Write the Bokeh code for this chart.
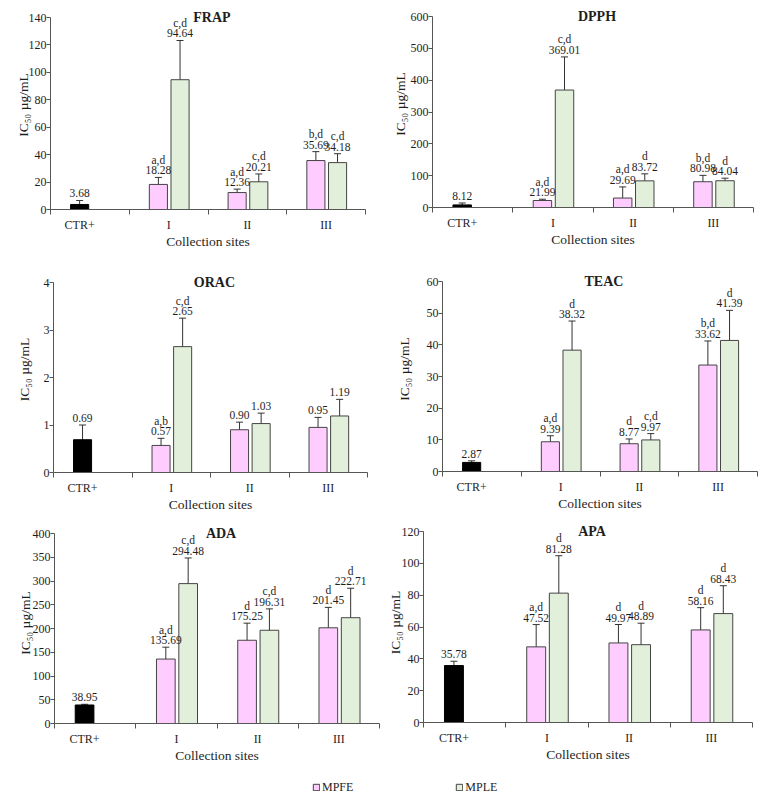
from bokeh.plotting import figure
from bokeh.models import (ColumnDataSource, Range1d, FixedTicker, SingleIntervalTicker,
                          Whisker, TeeHead, LabelSet, Label, Legend, LegendItem, Title)
from bokeh.layouts import column, row
from bokeh.core.properties import value
from bokeh.embed import file_html
from bokeh.resources import INLINE

# ---------------- data ----------------
ASSAYS = ["FRAP", "DPPH", "ORAC", "TEAC", "ADA", "APA"]
SITES = ["I", "II", "III"]
CTR_NAME = "CTR+"
SERIES = ["MPFE", "MPLE"]
Y_MAX = [140, 600, 4, 60, 400, 120]
Y_STEP = [20, 100, 1, 10, 50, 20]

CTR = [3.68, 8.12, 0.69, 2.87, 38.95, 35.78]
CTR_ERR = [2.9, 6.0, 0.31, 0.5, 1.5, 2.7]

FRAP_MPFE = [18.28, 12.36, 35.69]
FRAP_MPLE = [94.64, 20.21, 34.18]
FRAP_MPFE_UP = [5.1, 2.5, 6.5]
FRAP_MPFE_DN = [3.4, 1.7, 5.5]
FRAP_MPLE_UP = [28.6, 5.7, 6.5]
FRAP_MPLE_DN = [22.2, 3.9, 5.2]
FRAP_MPFE_SIG = ["a,d", "a,d", "b,d"]
FRAP_MPLE_SIG = ["c,d", "c,d", "c,d"]

DPPH_MPFE = [21.99, 29.69, 80.98]
DPPH_MPLE = [369.01, 83.72, 84.04]
DPPH_MPFE_UP = [4.0, 35.0, 20.0]
DPPH_MPFE_DN = [2.0, 17.0, 18.0]
DPPH_MPLE_UP = [104.0, 22.0, 8.0]
DPPH_MPLE_DN = [82.0, 18.0, 10.0]
DPPH_MPFE_SIG = ["a,d", "a,d", "b,d"]
DPPH_MPLE_SIG = ["c,d", "d", "d"]

ORAC_MPFE = [0.57, 0.90, 0.95]
ORAC_MPLE = [2.65, 1.03, 1.19]
ORAC_MPFE_UP = [0.15, 0.16, 0.21]
ORAC_MPFE_DN = [0.11, 0.13, 0.18]
ORAC_MPLE_UP = [0.60, 0.22, 0.35]
ORAC_MPLE_DN = [0.50, 0.19, 0.27]
ORAC_MPFE_SIG = ["a,b", "", ""]
ORAC_MPLE_SIG = ["c,d", "", ""]

TEAC_MPFE = [9.39, 8.77, 33.62]
TEAC_MPLE = [38.32, 9.97, 41.39]
TEAC_MPFE_UP = [1.9, 1.5, 7.6]
TEAC_MPFE_DN = [1.7, 1.5, 6.3]
TEAC_MPLE_UP = [9.2, 2.0, 9.5]
TEAC_MPLE_DN = [7.3, 1.8, 7.8]
TEAC_MPFE_SIG = ["a,d", "d", "b,d"]
TEAC_MPLE_SIG = ["d", "c,d", "d"]

ADA_MPFE = [135.69, 175.25, 201.45]
ADA_MPLE = [294.48, 196.31, 222.71]
ADA_MPFE_UP = [25.0, 36.0, 43.0]
ADA_MPFE_DN = [20.0, 30.0, 35.0]
ADA_MPLE_UP = [54.0, 45.0, 62.0]
ADA_MPLE_DN = [45.0, 36.0, 47.0]
ADA_MPFE_SIG = ["a,d", "d", "d"]
ADA_MPLE_SIG = ["c,d", "c,d", "d"]

APA_MPFE = [47.52, 49.97, 58.16]
APA_MPLE = [81.28, 48.89, 68.43]
APA_MPFE_UP = [14.0, 11.6, 14.0]
APA_MPFE_DN = [11.0, 9.5, 11.6]
APA_MPLE_UP = [23.5, 13.5, 17.5]
APA_MPLE_DN = [18.5, 10.7, 14.0]
APA_MPFE_SIG = ["a,d", "d", "d"]
APA_MPLE_SIG = ["d", "d", "d"]

TABLE = {
    "FRAP": (FRAP_MPFE, FRAP_MPLE, FRAP_MPFE_UP, FRAP_MPFE_DN, FRAP_MPLE_UP, FRAP_MPLE_DN, FRAP_MPFE_SIG, FRAP_MPLE_SIG),
    "DPPH": (DPPH_MPFE, DPPH_MPLE, DPPH_MPFE_UP, DPPH_MPFE_DN, DPPH_MPLE_UP, DPPH_MPLE_DN, DPPH_MPFE_SIG, DPPH_MPLE_SIG),
    "ORAC": (ORAC_MPFE, ORAC_MPLE, ORAC_MPFE_UP, ORAC_MPFE_DN, ORAC_MPLE_UP, ORAC_MPLE_DN, ORAC_MPFE_SIG, ORAC_MPLE_SIG),
    "TEAC": (TEAC_MPFE, TEAC_MPLE, TEAC_MPFE_UP, TEAC_MPFE_DN, TEAC_MPLE_UP, TEAC_MPLE_DN, TEAC_MPFE_SIG, TEAC_MPLE_SIG),
    "ADA": (ADA_MPFE, ADA_MPLE, ADA_MPFE_UP, ADA_MPFE_DN, ADA_MPLE_UP, ADA_MPLE_DN, ADA_MPFE_SIG, ADA_MPLE_SIG),
    "APA": (APA_MPFE, APA_MPLE, APA_MPFE_UP, APA_MPFE_DN, APA_MPLE_UP, APA_MPLE_DN, APA_MPFE_SIG, APA_MPLE_SIG),
}

# ---------------- style / layout ----------------
FONT = "Liberation Serif"
PINK = "#FFCCFF"
GREEN = "#E2EFDA"
BLACK = "#000000"
EDGE = "#444444"
AXIS = "#555555"
TXT = "#1e1e1e"
BAR_W = 0.23
OFF_A = 0.37    # first bar offset inside a category
OFF_B = 0.645   # second bar offset inside a category
VAL_GAP_PX = 3      # value baseline above error cap
SIG_GAP_PX = 13.5   # letters baseline above error cap
Y_LABEL = "IC\u2085\u2080 \u00b5g/mL"
X_LABEL = "Collection sites"

# frame_width, frame_height(0..ymax), border left, right, space above ymax, bottom,
# y-axis-label standoff
GEOM = [
    (315, 192, 50, 15, 17, 57, -5),
    (321, 191, 52, 7, 16, 59, 0),
    (314, 190, 53, 13, 16, 50, 9),
    (315, 190, 62, 3, 15, 51, 12),
    (325, 190, 54, 1, 11, 52, -3),
    (329, 191, 43, 8, 9, 53, -4),
]


def fmt(v):
    return "%.2f" % v


def panel(i):
    name = ASSAYS[i]
    fw, fh, bl, br, bt, bb, lso = GEOM[i]
    ymax = Y_MAX[i]
    per_px = ymax / fh
    n = len(SITES)
    p = figure(frame_width=fw, frame_height=fh + bt,
               min_border_left=bl, min_border_right=br,
               min_border_top=0, min_border_bottom=bb,
               x_range=Range1d(0, n + 1), y_range=Range1d(0, ymax + bt * per_px),
               output_backend="svg", toolbar_location=None, tools="")
    p.outline_line_color = None
    p.grid.visible = False
    p.background_fill_color = "white"

    mpfe, mple, fu, fd, lu, ld, fs, ls = TABLE[name]
    cats = list(range(1, n + 1))

    groups = [(OFF_A, [0], [CTR[i]], [CTR_ERR[i]], [CTR_ERR[i]], [""], BLACK, BLACK),
              (OFF_A, cats, mpfe, fu, fd, fs, PINK, EDGE),
              (OFF_B, cats, mple, lu, ld, ls, GREEN, EDGE)]
    for off, cc, vals, up, dn, sig, col, edge in groups:
        caps = [v + u for v, u in zip(vals, up)]
        src = ColumnDataSource(dict(
            x=[c + off for c in cc], top=vals,
            upper=caps,
            lower=[v - d for v, d in zip(vals, dn)],
            vy=[c + VAL_GAP_PX * per_px for c in caps],
            sy=[c + SIG_GAP_PX * per_px for c in caps],
            vtext=[fmt(v) for v in vals],
            stext=sig))
        p.vbar(x="x", top="top", width=BAR_W, source=src, fill_color=col,
               line_color=edge, line_width=1)
        p.add_layout(Whisker(base="x", upper="upper", lower="lower", source=src,
                             line_color="#333333", line_width=1,
                             upper_head=TeeHead(size=7, line_color="#333333", line_width=1),
                             lower_head=TeeHead(size=7, line_color="#333333", line_width=1)))
        for ycol, tcol in (("vy", "vtext"), ("sy", "stext")):
            p.add_layout(LabelSet(x="x", y=ycol, text=tcol, source=src,
                                  text_align="center", text_baseline="alphabetic",
                                  text_font=value(FONT), text_font_size="11.5px",
                                  text_color=TXT))

    # axes
    xa = p.xaxis[0]
    ticks = [OFF_A] + [c + 0.5 for c in cats]
    xa.ticker = FixedTicker(ticks=ticks, minor_ticks=list(range(0, n + 2)))
    xa.major_label_overrides = {t: lab for t, lab in zip(ticks, [CTR_NAME] + SITES)}
    xa.major_tick_line_color = None
    xa.major_tick_out = 0
    xa.major_tick_in = 0
    xa.minor_tick_line_color = AXIS
    xa.minor_tick_out = 5
    xa.minor_tick_in = 0
    xa.axis_line_color = AXIS
    xa.major_label_standoff = 3
    xa.major_label_text_font = FONT
    xa.major_label_text_font_size = "12px"
    xa.major_label_text_color = TXT

    ya = p.yaxis[0]
    ya.bounds = (0, ymax)
    ya.ticker = SingleIntervalTicker(interval=Y_STEP[i], num_minor_ticks=0)
    ya.axis_line_color = AXIS
    ya.major_tick_line_color = AXIS
    ya.major_tick_out = 4
    ya.major_tick_in = 0
    ya.minor_tick_line_color = None
    ya.major_label_standoff = 0
    ya.major_label_text_font = FONT
    ya.major_label_text_font_size = "12px"
    ya.major_label_text_color = TXT
    ya.axis_label = Y_LABEL
    ya.axis_label_text_font = FONT
    ya.axis_label_text_font_size = "13.5px"
    ya.axis_label_text_font_style = "normal"
    ya.axis_label_text_color = TXT
    ya.axis_label_standoff = lso

    # panel title straddling the top of the axis
    p.add_layout(Label(x=2.05, y=ymax, text=name, text_align="center", text_baseline="middle",
                       text_font=FONT, text_font_size="14px", text_font_style="bold",
                       text_color=TXT))
    # x axis title centred under the collection sites
    p.add_layout(Title(text=X_LABEL, align="center", offset=0.5 * fw / (n + 1), standoff=-5,
                       text_font=FONT, text_font_size="13.5px", text_font_style="normal",
                       text_color=TXT), "below")
    return p


panels = [panel(i) for i in range(len(ASSAYS))]

# legend strip (swatch renderers sit far outside the visible range)
lg = figure(width=760, height=24, x_range=Range1d(0, 1), y_range=Range1d(0, 1),
            output_backend="svg", toolbar_location=None, tools="",
            x_axis_location=None, y_axis_location=None, min_border=0)
lg.outline_line_color = None
lg.grid.visible = False
r1 = lg.vbar(x=[50], top=[0.5], width=0.1, fill_color=PINK, line_color=EDGE)
r2 = lg.vbar(x=[50], top=[0.5], width=0.1, fill_color=GREEN, line_color=EDGE)
legend = Legend(items=[LegendItem(label=SERIES[0], renderers=[r1]),
                       LegendItem(label=SERIES[1], renderers=[r2])],
                orientation="horizontal", location=(312, 2), spacing=102,
                glyph_width=8, glyph_height=8, label_standoff=2, label_height=20,
                border_line_color=None, background_fill_alpha=0, padding=0, margin=0,
                label_text_font=FONT, label_text_font_size="12px", label_text_color=TXT)
lg.add_layout(legend, "center")

layout = column(row(panels[0], panels[1]), row(panels[2], panels[3]),
                row(panels[4], panels[5]), lg)

open("out.html", "w").write(file_html(layout, INLINE))
